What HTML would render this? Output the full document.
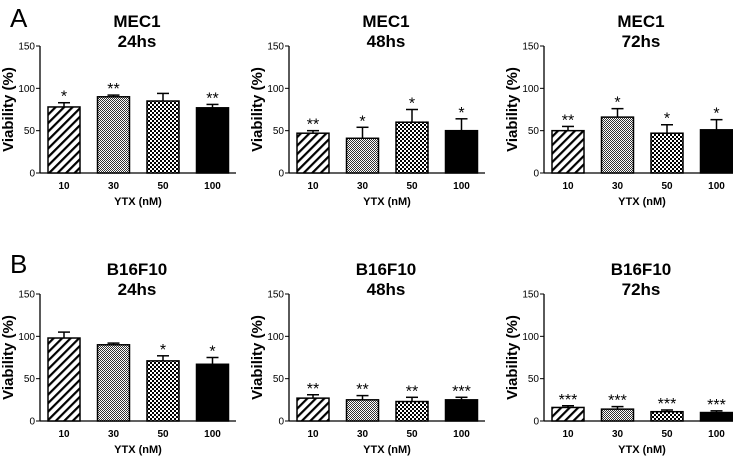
<!DOCTYPE html>
<html><head><meta charset="utf-8"><style>
body{margin:0;background:#fff}svg{display:block;font-family:"Liberation Sans",Arial,sans-serif}
</style></head><body>
<svg id="fig" width="733" height="459" viewBox="0 0 733 459">
<defs>
<pattern id="p0" width="6" height="6" patternUnits="userSpaceOnUse" patternTransform="rotate(45)"><rect width="6" height="6" fill="#fff"/><rect width="2.2" height="6" fill="#000"/></pattern>
<pattern id="p1" width="2" height="2" patternUnits="userSpaceOnUse"><rect width="2" height="2" fill="#fff"/><rect width="1" height="1" fill="#333"/><rect x="1" y="1" width="1" height="1" fill="#333"/></pattern>
<pattern id="p2" width="4" height="4" patternUnits="userSpaceOnUse"><rect width="4" height="4" fill="#fff"/><rect width="2" height="2" fill="#000"/><rect x="2" y="2" width="2" height="2" fill="#000"/></pattern>
</defs>
<text x="10" y="27" font-size="26">A</text>
<text x="10" y="273" font-size="26">B</text>
</svg>
<script>
const categories=["10","30","50","100"];
const ticks=[0,50,100,150];
const titles1=["MEC1","MEC1","MEC1","B16F10","B16F10","B16F10"];
const titles2=["24hs","48hs","72hs","24hs","48hs","72hs"];
const means0=[78,90,85,77], errs0=[5,2,9,4], sig0=["*","**","","**"];
const means1=[47,41,60,50], errs1=[3,13,15,14], sig1=["**","*","*","*"];
const means2=[50,66,47,51], errs2=[5,10,10,12], sig2=["**","*","*","*"];
const means3=[98,90,71,67], errs3=[7,2,6,8], sig3=["","","*","*"];
const means4=[27,25,23,25], errs4=[4,5,5,3], sig4=["**","**","**","***"];
const means5=[16,14,11,10], errs5=[2,3,2,2], sig5=["***","***","***","***"];
const means=[means0,means1,means2,means3,means4,means5];
const errs=[errs0,errs1,errs2,errs3,errs4,errs5];
const sigs=[sig0,sig1,sig2,sig3,sig4,sig5];
const NS="http://www.w3.org/2000/svg",svg=document.getElementById("fig");
function mk(t,a,p){const e=document.createElementNS(NS,t);for(const k in a)e.setAttribute(k,a[k]);(p||svg).appendChild(e);return e;}
const axX=[40,289,544],topY=[46,294],botY=[173,421];
const fills=["url(#p0)","url(#p1)","url(#p2)","#000"];
for(let p=0;p<6;p++){
 const ax=axX[p%3],r=Math.floor(p/3),y0=botY[r],y1=topY[r];
 const ys=v=>y0-(v/150)*(y0-y1);
 const xs=i=>ax+8+i*49.5;
 const g=mk("g",{});
 
 
 const cx=ax+97;
 let t=mk("text",{x:cx,y:y1-19,"font-size":17,"font-weight":"bold","text-anchor":"middle"},g);t.textContent=titles1[p];
 
 
 t=mk("text",{x:cx,y:y1+1,"font-size":17,"font-weight":"bold","text-anchor":"middle"},g);t.textContent=titles2[p];
 
 
 mk("line",{x1:ax,y1:y1,x2:ax,y2:y0,stroke:"#000","stroke-width":1.3},g);
 mk("line",{x1:ax,y1:y0,x2:ax+196,y2:y0,stroke:"#000","stroke-width":1.3},g);
 ticks.forEach(v=>{const y=ys(v);mk("line",{x1:ax-4,y1:y,x2:ax,y2:y,stroke:"#000"},g);
  const tt=mk("text",{x:ax-5,y:y+3.5,"font-size":10,"text-anchor":"end"},g);tt.textContent=v;
  
  });
 const yl=mk("text",{x:0,y:0,"font-size":15,"font-weight":"bold","text-anchor":"middle",transform:`translate(${ax-27},${(y0+y1)/2}) rotate(-90)`},g);yl.textContent="Viability (%)";
 
 
 categories.forEach((c,i)=>{
  const x=xs(i),w=32,m=means[p][i],e=errs[p][i];
  const b=mk("rect",{x:x,y:ys(m),width:w,height:y0-ys(m),fill:fills[i],stroke:"#000","stroke-width":1.5},g);
  
  
  mk("line",{x1:x+w/2,y1:ys(m),x2:x+w/2,y2:ys(m+e),stroke:"#000","stroke-width":1.5},g);
  mk("line",{x1:x+w/2-6,y1:ys(m+e),x2:x+w/2+6,y2:ys(m+e),stroke:"#000","stroke-width":1.5},g);
  if(sigs[p][i]){const s=mk("text",{x:x+w/2,y:ys(m+e)-1,"font-size":16,"text-anchor":"middle"},g);s.textContent=sigs[p][i];
   
   }
  const tl=mk("text",{x:x+w/2,y:y0+16,"font-size":10,"font-weight":"bold","text-anchor":"middle"},g);tl.textContent=c;
  
  
 });
 const xt=mk("text",{x:ax+98,y:y0+32,"font-size":11,"font-weight":"bold","text-anchor":"middle"},g);xt.textContent="YTX (nM)";
 
 
}
</script>
</body></html>
